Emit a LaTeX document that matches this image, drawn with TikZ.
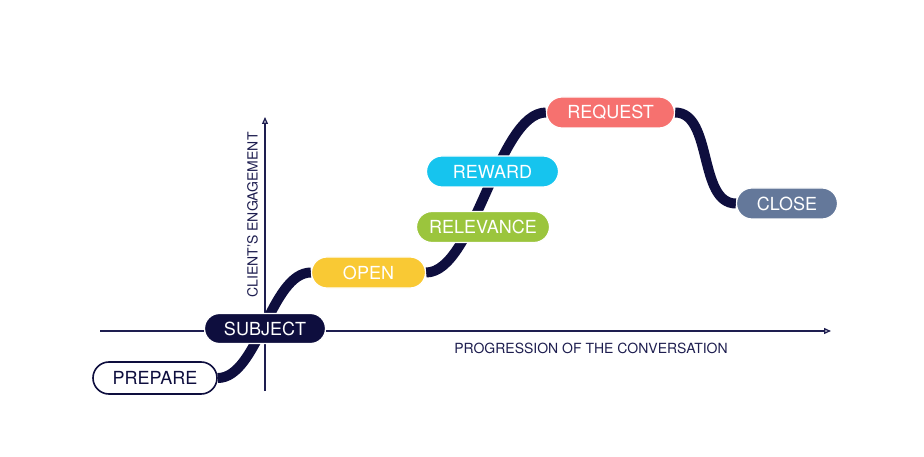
\documentclass[tikz,border=0pt]{standalone}
\usepackage{fontspec}
\setmainfont{TeX Gyre Heros}
\usetikzlibrary{arrows.meta,backgrounds}
\definecolor{navy}{RGB}{14,14,62}
\definecolor{axisnavy}{RGB}{30,30,80}
\definecolor{cyellow}{RGB}{249,201,52}
\definecolor{cgreen}{RGB}{155,197,61}
\definecolor{ccyan}{RGB}{22,196,238}
\definecolor{csalmon}{RGB}{246,113,111}
\definecolor{cslate}{RGB}{100,120,154}
\begin{document}
\begin{tikzpicture}[x=1pt,y=-1pt,
  pill/.style={rounded corners=15.5pt, minimum height=31pt, inner sep=0pt,
    font=\fontsize{18}{18}\selectfont, text=white, draw=white, line width=1.2pt},
  curve/.style={draw=navy, line width=10pt},
  axis/.style={draw=axisnavy, line width=1.3pt, -{Triangle[open,length=7pt,width=6pt]}},
  axlabel/.style={font=\fontsize{14}{14}\selectfont, text=axisnavy, inner sep=0pt}]
\useasboundingbox (0,0) rectangle (924,457);

\node[pill, draw=navy, fill=white, text=navy, line width=1.6pt, minimum width=124pt, minimum height=32pt, rounded corners=16pt] (prepare) at (155,378) {PREPARE};
\node[pill, fill=navy, minimum width=121pt, minimum height=30pt, rounded corners=15pt] (subject) at (265,328.5) {SUBJECT};
\node[pill, fill=cyellow, minimum width=114pt] (open) at (368.5,272.5) {OPEN};
\node[pill, fill=cgreen, minimum width=133pt] (relevance) at (483,227) {RELEVANCE};
\node[pill, fill=ccyan, minimum width=132pt] (reward) at (492.5,171.5) {REWARD};
\node[pill, fill=csalmon, minimum width=128pt] (request) at (610.5,112.5) {REQUEST};
\node[pill, fill=cslate, minimum width=101pt] (close) at (787,203.5) {CLOSE};

\node[axlabel, rotate=90] (ylab) at (252.5,215) {CLIENT'S ENGAGEMENT};
\node[axlabel] (xlab) at (591,348) {PROGRESSION OF THE CONVERSATION};

\coordinate (xs) at (100,331);
\coordinate (xe) at (831,331);
\coordinate (ys) at (265,391);
\coordinate (ye) at (265,117);

\begin{scope}[on background layer]
  \fill[white] (0,0) rectangle (924,457);
  \draw[axis] (xs) -- (xe);
  \draw[axis] (ys) -- (ye);
  \draw[curve] (prepare.east) .. controls +(40,0) and +(-40,0) .. (open.west);
  \draw[curve] (open.east) .. controls +(48,0) and +(-48,0) .. (request.west);
  \draw[curve] (request.east) .. controls +(38,0) and +(-38,0) .. (close.west);
\end{scope}
\end{tikzpicture}
\end{document}
